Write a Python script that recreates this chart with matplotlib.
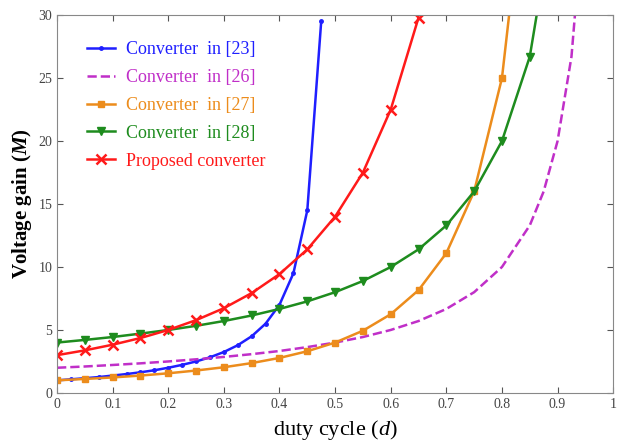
import numpy as np
import matplotlib.pyplot as plt

plt.rcParams['font.family'] = ['Liberation Serif', 'DejaVu Serif']
plt.rcParams['mathtext.fontset'] = 'custom'
plt.rcParams['mathtext.rm'] = 'Liberation Serif'
plt.rcParams['mathtext.it'] = 'Liberation Serif:italic'
plt.rcParams['mathtext.bf'] = 'Liberation Serif:bold'
plt.rcParams['mathtext.bfit'] = 'Liberation Serif:italic:bold'

# values
d_23 = [0, 0.025, 0.05, 0.075, 0.1, 0.125, 0.15, 0.175, 0.2, 0.225, 0.25,
        0.275, 0.3, 0.325, 0.35, 0.375, 0.4, 0.425, 0.45, 0.475]
m_23 = [1.0, 1.08, 1.17, 1.26, 1.38, 1.5, 1.64, 1.8, 2.0, 2.23, 2.5,
        2.83, 3.25, 3.79, 4.5, 5.5, 7.0, 9.5, 14.5, 29.5]

d_26 = [0, 0.05, 0.1, 0.15, 0.2, 0.25, 0.3, 0.35, 0.4, 0.45, 0.5, 0.55,
        0.6, 0.65, 0.7, 0.75, 0.8, 0.85, 0.875, 0.9, 0.925, 0.95]
m_26 = [2.0, 2.1, 2.22, 2.35, 2.5, 2.67, 2.86, 3.08, 3.33, 3.64, 4.0, 4.44,
        5.0, 5.71, 6.67, 8.0, 10.0, 13.3, 16.0, 20.0, 26.7, 40.0]

d_27 = [0, 0.05, 0.1, 0.15, 0.2, 0.25, 0.3, 0.35, 0.4, 0.45, 0.5, 0.55,
        0.6, 0.65, 0.7, 0.75, 0.8, 0.85]
m_27 = [1.0, 1.11, 1.23, 1.38, 1.56, 1.78, 2.04, 2.37, 2.78, 3.31, 4.0, 4.94,
        6.25, 8.16, 11.1, 16.0, 25.0, 44.4]

d_28 = [0, 0.05, 0.1, 0.15, 0.2, 0.25, 0.3, 0.35, 0.4, 0.45, 0.5, 0.55,
        0.6, 0.65, 0.7, 0.75, 0.8, 0.85, 0.9]
m_28 = [4.0, 4.21, 4.44, 4.71, 5.0, 5.33, 5.71, 6.15, 6.67, 7.27, 8.0, 8.89,
        10.0, 11.4, 13.3, 16.0, 20.0, 26.7, 40.0]

d_pr = [0, 0.05, 0.1, 0.15, 0.2, 0.25, 0.3, 0.35, 0.4, 0.45, 0.5, 0.55,
        0.6, 0.65]
m_pr = [3.0, 3.38, 3.83, 4.36, 5.0, 5.78, 6.73, 7.93, 9.44, 11.4, 14.0, 17.5,
        22.5, 29.8]

labels = ['Converter  in [23]', 'Converter  in [26]', 'Converter  in [27]',
          'Converter  in [28]', 'Proposed converter']
colors = ['#1f1fff', '#c02fc8', '#ec8c1c', '#1e8c1e', '#ff1a1a']

fig = plt.figure(figsize=(6.2, 4.45), dpi=100)
ax = fig.add_axes([0.092, 0.117, 0.897, 0.849])

ax.plot(d_23, m_23, '-', color=colors[0], lw=1.8, marker='o', ms=2.5, label=labels[0])
ax.plot(d_26, m_26, '--', color=colors[1], lw=1.8, label=labels[1])
ax.plot(d_27, m_27, '-', color=colors[2], lw=1.8, marker='s', ms=5, label=labels[2])
ax.plot(d_28, m_28, '-', color=colors[3], lw=1.8, marker='v', ms=6, label=labels[3])
ax.plot(d_pr, m_pr, '-', color=colors[4], lw=1.8, marker='x', ms=7, mew=1.8, label=labels[4])

ax.set_xlim(0, 1)
ax.set_ylim(0, 30)
ax.set_xticks(np.arange(0, 1.01, 0.1))
ax.set_xticklabels(['0', '0.1', '0.2', '0.3', '0.4', '0.5', '0.6', '0.7', '0.8', '0.9', '1'])
ax.set_yticks(range(0, 31, 5))
ax.tick_params(direction='in', top=True, right=True, length=4, colors='#555555',
               labelsize=10, labelcolor='#444444')
for s in ax.spines.values():
    s.set_color('#888888')

ax.set_xlabel('duty cycle ($\\mathit{d}$)', fontsize=16, labelpad=5)
ax.set_ylabel('Voltage gain ($\\mathbfit{M}$)', fontsize=15, fontweight='bold', labelpad=3)

leg = ax.legend(loc='upper left', frameon=False, fontsize=13, handlelength=1.6,
                handletextpad=0.6, labelspacing=0.6, borderaxespad=0.0,
                bbox_to_anchor=(0.04, 0.95))
for t, c in zip(leg.get_texts(), colors):
    t.set_color(c)

fig.savefig('out.png', dpi=100)
